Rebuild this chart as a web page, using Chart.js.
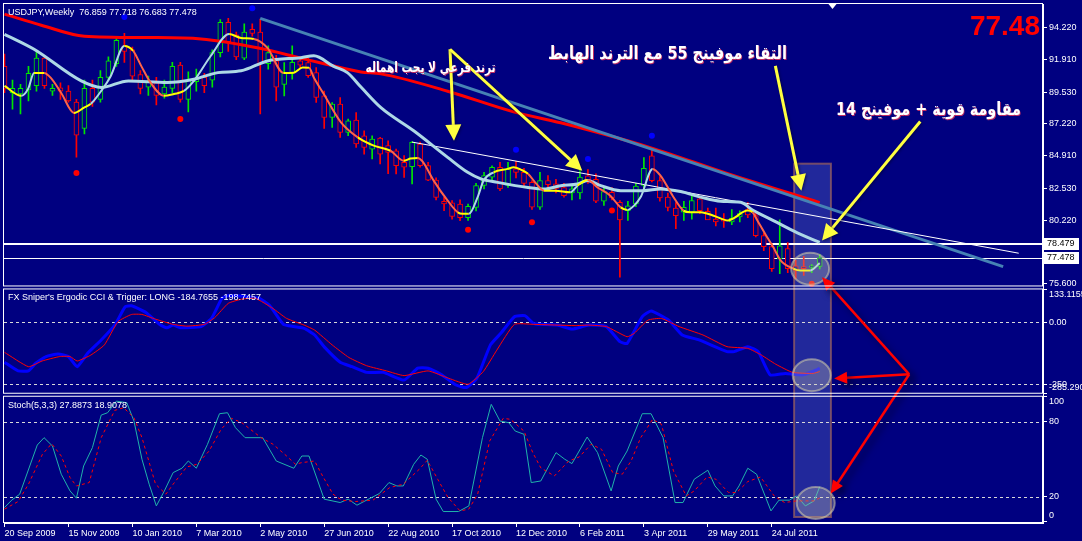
<!DOCTYPE html>
<html>
<head>
<meta charset="utf-8">
<script src="https://cdn.jsdelivr.net/npm/chart.js@4.4.0/dist/chart.umd.min.js"></script>
<style>
html, body { margin: 0; padding: 0; background: #000080; overflow: hidden; }
canvas { display: block; }
</style>
</head>
<body>
<canvas id="chart" width="1082" height="541"></canvas>
<script>
// weekly USDJPY bars, index 0 = week of 20 Sep 2009
const dateLabels = ['20 Sep 2009','15 Nov 2009','10 Jan 2010','7 Mar 2010','2 May 2010','27 Jun 2010','22 Aug 2010','17 Oct 2010','12 Dec 2010','6 Feb 2011','3 Apr 2011','29 May 2011','24 Jul 2011'];
const dateIdx = [0,8,16,24,32,40,48,56,64,72,80,88,96];

const opens  = [91.4,89.5,89.4,89.7,90.0,92.0,89.6,89.85,89.6,88.8,86.9,89.8,89.0,90.6,91.6,92.9,92.6,90.8,89.9,90.2,89.4,89.8,91.5,89.0,90.3,90.6,90.4,92.4,94.6,93.7,92.0,94.1,93.9,91.6,91.8,90.1,90.95,91.8,91.68,90.95,89.26,87.69,88.66,86.6,87.5,86.36,85.39,86.2,85.64,85.27,84.43,84.12,85.76,84.19,83.13,81.6,81.49,81.4,80.4,81.15,82.74,83.34,84.07,82.74,83.95,83.7,82.98,81.16,83.1,82.86,82.6,82.2,82.2,83.45,83.2,81.6,82.25,81.52,80.92,81.4,82.74,84.9,83.1,81.9,81.1,80.8,80.8,81.77,80.87,80.3,80.3,80.1,80.45,81.0,80.55,79.1,78.3,77.4,78.15,76.9,76.85,76.8,76.859];
const highs  = [92.3,90.4,90.1,91.4,92.5,92.2,90.1,90.2,90.0,89.0,90.4,90.4,91.1,92.1,93.5,93.8,92.8,91.1,90.7,90.6,90.4,91.7,91.7,91.0,91.2,90.9,92.6,94.8,94.9,93.9,94.5,94.5,94.85,92.9,92.2,91.68,92.89,92.1,92.0,91.32,89.6,88.78,89.14,87.57,88.05,86.72,86.36,86.24,86.0,85.4,84.91,85.93,85.9,84.43,83.3,81.88,81.64,81.7,81.4,82.9,83.7,84.18,84.43,84.43,84.5,84.0,83.1,83.7,83.46,83.2,82.9,82.8,84.06,83.9,83.6,82.6,82.6,81.64,81.6,82.9,84.78,85.5,83.4,82.2,81.5,81.6,82.0,81.9,81.1,81.1,80.7,81.0,80.9,81.5,80.8,79.3,78.5,80.24,78.6,77.3,77.6,77.0,77.718];
const lows   = [89.5,88.3,87.95,88.9,89.6,89.8,89.3,89.0,88.8,84.8,86.5,88.5,88.8,90.4,91.4,91.7,90.3,89.4,89.3,88.6,89.1,89.5,88.8,88.1,89.6,89.5,89.9,92.1,92.5,91.9,91.9,93.6,87.95,91.2,88.9,89.26,90.47,91.3,90.6,88.78,86.9,86.96,86.24,86.36,85.51,85.03,84.67,84.31,83.6,83.58,83.33,82.86,84.07,83.1,81.7,80.92,80.3,80.19,80.2,80.9,82.5,83.1,82.37,82.6,83.3,82.6,81.0,81.0,82.6,82.2,81.9,81.7,81.77,82.9,81.5,81.3,81.7,76.08,80.2,81.2,82.3,83.0,81.6,80.9,79.6,80.2,80.3,80.7,80.3,79.8,79.7,79.9,80.1,80.4,79.0,78.0,76.5,76.33,76.4,75.95,76.2,76.4,76.683];
const closes = [89.8,89.8,89.8,90.9,92.0,90.0,89.8,89.6,88.9,86.4,89.8,88.8,90.6,91.8,93.3,92.5,90.7,89.8,90.3,89.3,89.9,91.4,89.0,90.4,90.5,90.0,92.4,94.6,93.2,92.1,93.9,93.8,91.6,92.4,89.9,90.95,91.7,91.5,90.72,89.14,87.69,88.66,86.6,87.45,85.76,85.51,86.12,85.03,85.15,84.18,84.07,85.88,84.18,83.13,81.88,81.4,80.5,80.4,81.23,82.74,83.46,84.07,82.5,83.95,83.7,82.9,81.16,83.1,82.8,82.5,82.0,82.5,83.35,83.1,81.6,82.3,81.84,80.24,81.27,82.7,83.99,83.1,81.84,81.15,80.55,81.15,81.64,80.92,80.24,80.1,80.15,80.35,80.7,80.6,79.1,78.3,76.7,78.36,76.69,76.56,76.7,76.9,77.478];

// moving averages: [bar index, price]
const ma55 = [[0,95.2],[4.6,94.4],[10,93.6],[18,93.5],[24.6,93.4],[32.1,92.7],[37.1,92.0],[40,91.6],[44.6,91.0],[47.1,90.86],[55.45,89.6],[63.7,88.1],[69.6,87.3],[80.8,85.5],[90.5,83.6],[102,81.5]];
const ma14 = [[0,93.74],[3.7,92.65],[9.6,90.35],[12.1,89.87],[15.5,90.35],[20.4,90.23],[23.7,90.47],[26.7,90.95],[29.6,91.08],[32.9,91.8],[37.1,92.04],[38.7,92.17],[41.2,91.4],[42.9,90.95],[44.6,89.9],[47.1,88.4],[51.2,86.72],[55.45,84.79],[57.95,83.7],[59.6,83.22],[61.7,82.97],[65.5,82.6],[67.5,82.49],[69.6,82.73],[71.7,82.85],[72.95,83.1],[74.6,82.73],[77.1,82.37],[79.95,82.37],[82.1,82.49],[84.6,82.3],[87.1,81.9],[89.6,81.6],[92.1,81.52],[93.7,80.92],[96.2,80.19],[99.2,79.3],[102,78.6]];
const fastMa = [[0,89.98],[2.1,89.26],[2.95,89.77],[3.7,90.93],[4.95,90.93],[5.8,90.57],[7.1,89.47],[8.7,88.02],[9.95,88.4],[10.8,88.68],[12.1,89.62],[13.3,90.71],[15.0,92.89],[16.1,92.53],[17.1,91.44],[18.3,90.2],[19.95,89.26],[21.2,89.4],[22.45,89.62],[23.7,90.35],[25.8,92.16],[28.1,93.76],[29.6,93.47],[31.2,93.4],[32.9,92.75],[34.9,90.93],[36.2,90.95],[37.3,91.32],[38.1,91.3],[38.7,90.6],[39.95,89.39],[42.1,87.33],[44.2,86.24],[46.2,85.64],[48.3,85.27],[49.95,84.55],[50.8,84.7],[51.7,84.75],[52.3,84.5],[53.7,83.1],[55.45,81.64],[56.7,80.8],[57.3,80.68],[58.1,80.68],[59.2,81.9],[59.95,83.1],[61.2,83.7],[62.95,83.95],[63.7,84.07],[64.6,83.9],[65.5,83.6],[66.5,82.9],[67.5,82.37],[68.9,82.37],[70.8,82.25],[71.7,82.73],[72.95,83.14],[74.2,82.6],[75.8,82.0],[77.1,81.15],[77.95,80.97],[78.8,81.3],[79.6,81.9],[81.1,83.95],[82.1,83.45],[83.6,82.0],[84.95,80.92],[85.8,80.8],[87.1,80.8],[88.95,80.5],[90.5,80.2],[91.2,80.35],[92.95,80.92],[93.6,80.8],[94.2,80.2],[95.2,79.2],[96.2,78.25],[97.1,77.3],[98.7,76.7],[99.6,76.56],[100.8,76.56],[102,77.1]];

const downTrend = [[32,94.9],[124.95,76.85]];
const subTrend = [[51,85.9],[126.9,77.82]];
const fractalUp = [[15,94.99],[31,95.63],[64,85.35],[73,84.67],[81,86.36]];
const fractalDn = [[9,83.65],[22,87.57],[58,79.52],[66,80.07],[76,80.92],[101,75.6]];
const resistance = 78.479;
const bid = 77.478;
const priceTicks = [94.22,91.91,89.53,87.22,84.91,82.53,80.22,75.6];

// FX Sniper's Ergodic CCI & trigger
const cciMain = [[0,-161],[1.7,-196],[3.0,-196],[3.9,-165],[5.2,-138],[6.7,-128],[8.0,-138],[9.1,-179],[10.4,-125],[12.1,-71],[13.8,-11],[15.1,63],[15.9,67],[17.7,40],[19.4,-8],[20.3,-22],[21.1,-11],[22.0,-22],[24.6,-17],[25.9,16],[27.2,97],[28.0,108],[30.6,103],[31.9,97],[33.2,67],[34.9,-8],[36.2,-17],[37.5,-24],[38.8,-51],[40.1,-102],[42.0,-161],[43.5,-179],[45.3,-202],[47.4,-202],[50.0,-233],[51.7,-185],[53.0,-185],[54.7,-212],[56.5,-253],[57.8,-263],[59.1,-226],[60.8,-91],[62.1,-44],[63.8,23],[65.1,27],[66.2,-4],[67.1,-8],[69.2,-11],[71.0,-27],[73.1,-11],[75.3,-17],[77.0,-78],[77.9,-85],[79.8,23],[80.9,46],[83.1,9],[84.8,-51],[86.9,-71],[90.4,-118],[91.3,-118],[93.0,-98],[94.3,-118],[95.8,-212],[97.7,-206],[99.9,-212],[101.6,-192],[102,-184.7655]];
const cciTrig = [[0,-121],[3.0,-179],[4.7,-156],[6.9,-138],[8.2,-138],[9.1,-156],[10.8,-132],[12.5,-91],[14.2,3],[15.9,32],[17.2,32],[18.9,13],[21.1,-8],[22.8,-15],[25.0,-8],[26.3,19],[28.0,77],[29.7,94],[31.4,97],[33.6,56],[35.3,16],[37.5,-11],[38.8,-31],[41.0,-91],[43.1,-142],[45.3,-175],[47.8,-196],[50.0,-215],[53.0,-196],[55.6,-226],[58.0,-250],[59.9,-199],[61.6,-112],[63.8,-8],[66.2,-8],[71.4,-13],[73.1,-11],[75.3,-17],[77.9,-58],[78.8,-44],[80.5,9],[82.2,16],[84.4,-17],[87.4,-51],[90.4,-98],[93.0,-105],[94.7,-132],[96.5,-169],[98.6,-202],[101.2,-206],[102,-198.7457]];
const cciLevels = [0,-250];
const cciTicks = [133.1155,0,-250,-285.29];
const cciTickLabels = ['133.1155','0.00','-250','-285.290'];

// Stoch(5,3,3)
const stochMain = [[0,11.2],[0.9,17.1],[1.9,21.9],[4.1,61.3],[4.95,67.2],[6.0,60.5],[7.1,37.9],[8.2,24.5],[9.0,18.7],[9.9,44.5],[11.0,59.2],[12.1,85.3],[12.9,87.2],[14.0,96.5],[15.3,95.2],[16.2,80.5],[17.2,49.9],[18.1,29.9],[19.0,12.5],[20.0,24.5],[21.1,39.2],[22.2,42.7],[23.0,48.5],[24.0,42.7],[25.4,61.9],[26.9,86.4],[27.9,87.2],[28.9,75.2],[30.1,67.2],[32.3,67.2],[34.0,48.5],[36.2,42.7],[37.2,52.5],[38.1,52.5],[40.0,17.9],[42.0,15.2],[43.0,17.9],[44.1,13.1],[46.9,22.4],[48.1,31.2],[49.1,28.5],[49.9,28.5],[51.2,45.9],[52.1,53.3],[52.9,49.9],[54.0,17.9],[54.9,8.0],[56.8,8.0],[58.1,12.5],[59.8,67.2],[60.9,93.9],[62.0,80.5],[63.1,79.2],[63.9,72.5],[65.0,69.9],[65.9,31.2],[67.1,32.5],[69.0,55.2],[70.1,49.9],[71.0,46.4],[72.9,67.7],[74.2,55.2],[75.9,24.5],[76.8,44.5],[77.9,56.5],[79.8,86.4],[80.9,86.4],[82.4,67.2],[83.9,15.2],[84.9,15.2],[86.3,33.9],[88.0,41.1],[88.9,28.5],[90.0,20.5],[91.1,20.5],[91.9,28.5],[93.0,42.7],[94.1,37.9],[95.9,8.5],[96.9,17.1],[98.2,17.1],[99.1,20.5],[100.2,12.5],[101.3,16.5],[102,27.8873]];
const stochSig = [[0,9.9],[1.7,16.0],[3.0,29.9],[4.75,53.9],[5.9,62.4],[7.1,52.5],[8.2,35.2],[9.0,28.5],[10.6,31.2],[12.1,67.2],[13.8,89.1],[14.9,91.2],[16.2,83.2],[17.2,67.2],[18.9,29.9],[20.2,21.9],[21.1,29.9],[22.8,43.7],[24.1,45.9],[25.6,56.5],[27.1,73.9],[28.4,82.7],[29.7,79.2],[32.1,67.2],[33.6,61.9],[35.3,52.5],[36.4,45.9],[37.2,47.2],[38.8,48.5],[39.8,36.5],[41.1,21.9],[42.2,17.1],[43.9,16.0],[46.1,17.1],[48.2,27.2],[49.9,29.9],[51.9,41.9],[52.9,49.1],[54.2,33.9],[55.5,19.2],[57.0,8.5],[58.1,9.9],[59.2,21.9],[60.7,64.5],[62.4,82.7],[63.3,81.9],[65.0,72.5],[66.1,55.2],[67.1,43.0],[68.8,36.5],[70.6,48.5],[71.9,51.7],[73.4,61.9],[74.7,57.9],[76.1,39.2],[77.3,37.9],[78.4,48.5],[79.6,67.2],[81.1,81.9],[82.2,77.9],[83.7,40.5],[85.3,20.5],[86.3,24.5],[87.9,35.7],[89.0,33.9],[90.6,23.2],[91.6,23.2],[93.0,32.0],[94.6,35.7],[96.3,20.5],[97.6,15.2],[99.1,16.5],[101.3,16.5],[102,18.9078]];
const stochLevels = [80,20];
const stochTicks = [100,80,20,0];

// hand-drawn notes on the chart (bar index / value on each pane)
const noteTexts = ['ترند فرعي لا يجب اهماله','التقاء موفينج 55 مع الترند الهابط','مقاومة قوية + موفينج 14'];
const notePos = [[53.3,91.29],[82.95,92.31],[115.6,88.24]];
const yellowArrows = [[55.74,92.65,56.24,86.0],[55.74,92.65,72.29,83.82],[96.45,91.44,99.7,82.37],[114.58,87.4,102.29,78.74]];
const redHub = [113.2,-209.7];
const redTips = [['y',102.29,76.08],['yc',103.8,-227],['ys',103.38,22.4]];
const focusBox = [98.8,84.33,103.4,3.6];
const focusRings = [['y',100.8,76.69],['yc',101,-213.7],['ys',101.5,14.8]];

const NAVY = '#000080';
const bull = '#00e600', bear = '#ff0000';
const barIdx = opens.map((_, i) => i);
const candleColor = i => closes[i] >= opens[i] ? bull : bear;
const pts = arr => arr.map(([x, y]) => ({x, y}));
const last = arr => arr[arr.length - 1][1];

Chart.defaults.font.family = '"Liberation Sans", Arial, sans-serif';
Chart.defaults.font.size = 9;
Chart.defaults.color = '#ffffff';

function paneAxis(weight, min, max, vals, fmt) {
  return {
    type: 'linear', position: 'right', stack: 'panes', stackWeight: weight,
    min: min, max: max, offset: false,
    border: {display: true, color: '#ffffff', width: 1},
    grid: {drawOnChartArea: false, drawTicks: true, tickLength: 4, color: '#ffffff'},
    ticks: {padding: 2, color: '#ffffff', callback: fmt},
    afterBuildTicks: s => { s.ticks = vals.map(v => ({value: v})); },
    afterFit: s => { s.width = 39; s.paddingTop = 0; s.paddingBottom = 0; }
  };
}

function drawArrow(ctx, x0, y0, x1, y1, head, half) {
  const a = Math.atan2(y1 - y0, x1 - x0);
  ctx.beginPath();
  ctx.moveTo(x0, y0);
  ctx.lineTo(x1 - Math.cos(a) * head * 0.7, y1 - Math.sin(a) * head * 0.7);
  ctx.stroke();
  ctx.beginPath();
  ctx.moveTo(x1, y1);
  ctx.lineTo(x1 - head * Math.cos(a) + half * Math.sin(a), y1 - head * Math.sin(a) - half * Math.cos(a));
  ctx.lineTo(x1 - head * Math.cos(a) - half * Math.sin(a), y1 - head * Math.sin(a) + half * Math.cos(a));
  ctx.closePath();
  ctx.fill();
}

const decor = {
  id: 'decor',
  beforeDatasetsDraw(chart) {
    const {ctx, scales} = chart;
    const {x, y, yc, ys} = scales;
    ctx.save();
    // highlighted column
    const bx0 = x.getPixelForValue(focusBox[0]), bx1 = x.getPixelForValue(focusBox[2]);
    const by0 = y.getPixelForValue(focusBox[1]), by1 = ys.getPixelForValue(focusBox[3]);
    ctx.fillStyle = 'rgba(95,115,205,0.35)';
    ctx.fillRect(bx0, by0, bx1 - bx0, by1 - by0);
    ctx.strokeStyle = 'rgba(150,95,95,0.75)';
    ctx.lineWidth = 2;
    ctx.strokeRect(bx0, by0, bx1 - bx0, by1 - by0);
    // indicator levels
    ctx.setLineDash([3, 3]);
    ctx.strokeStyle = '#d8d8d8';
    ctx.lineWidth = 1;
    [[yc, cciLevels], [ys, stochLevels]].forEach(([s, lv]) => lv.forEach(v => {
      const py = Math.round(s.getPixelForValue(v)) + 0.5;
      ctx.beginPath(); ctx.moveTo(x.left, py); ctx.lineTo(x.right, py); ctx.stroke();
    }));
    ctx.setLineDash([]);
    ctx.strokeStyle = '#ffffff';
    let py = Math.round(y.getPixelForValue(resistance));
    ctx.lineWidth = 2;
    ctx.beginPath(); ctx.moveTo(x.left, py); ctx.lineTo(x.right, py); ctx.stroke();
    py = Math.round(y.getPixelForValue(bid)) + 0.5;
    ctx.lineWidth = 1;
    ctx.beginPath(); ctx.moveTo(x.left, py); ctx.lineTo(x.right, py); ctx.stroke();
    ctx.restore();
  },
  afterDatasetsDraw(chart) {
    const {ctx, scales} = chart;
    const {x, y, yc} = scales;
    ctx.save();
    // rings
    focusRings.forEach(([ax, i, v]) => {
      const cx = x.getPixelForValue(i), cy = scales[ax].getPixelForValue(v);
      ctx.beginPath();
      ctx.ellipse(cx, cy, 19, 16, 0, 0, Math.PI * 2);
      ctx.fillStyle = 'rgba(205,205,175,0.3)';
      ctx.fill();
      ctx.strokeStyle = 'rgba(215,210,170,0.55)';
      ctx.lineWidth = 2;
      ctx.stroke();
    });
    // red arrows from hub
    ctx.save();
    ctx.shadowColor = 'rgba(0,0,40,0.75)';
    ctx.shadowBlur = 7; ctx.shadowOffsetX = 4; ctx.shadowOffsetY = 4;
    ctx.strokeStyle = '#ff0000'; ctx.fillStyle = '#ff0000'; ctx.lineWidth = 2.5;
    const hx = x.getPixelForValue(redHub[0]), hy = yc.getPixelForValue(redHub[1]);
    redTips.forEach(([ax, i, v]) => drawArrow(ctx, hx, hy, x.getPixelForValue(i), scales[ax].getPixelForValue(v), 13, 6));
    ctx.restore();
    // yellow arrows
    ctx.save();
    ctx.shadowColor = 'rgba(0,0,40,0.6)';
    ctx.shadowBlur = 3; ctx.shadowOffsetX = 1; ctx.shadowOffsetY = 1;
    ctx.strokeStyle = '#ffff40'; ctx.fillStyle = '#ffff40'; ctx.lineWidth = 3;
    yellowArrows.forEach(([i0, p0, i1, p1]) => drawArrow(ctx, x.getPixelForValue(i0), y.getPixelForValue(p0), x.getPixelForValue(i1), y.getPixelForValue(p1), 16, 8));
    ctx.restore();
    // notes: bold Arabic, squeezed to the width they take in the screenshot
    const noteSize = [14, 18, 18];
    const noteWidth = [130, 239, 185];
    noteTexts.forEach((t, k) => {
      ctx.save();
      ctx.direction = 'rtl';
      ctx.textAlign = 'center';
      ctx.textBaseline = 'middle';
      ctx.font = 'bold ' + noteSize[k] + 'px "DejaVu Sans"';
      const w = ctx.measureText(t).width;
      ctx.translate(x.getPixelForValue(notePos[k][0]), y.getPixelForValue(notePos[k][1]));
      ctx.scale(Math.min(1, noteWidth[k] / w), 1);
      ctx.fillStyle = 'rgba(255,60,90,0.75)';
      ctx.fillText(t, 1, 1);
      ctx.fillStyle = '#ffffff';
      ctx.fillText(t, 0, 0);
      ctx.restore();
    });
    ctx.restore();
  },
  afterDraw(chart) {
    const {ctx, scales} = chart;
    const {x, y, yc, ys} = scales;
    ctx.save();
    // pane frames
    ctx.strokeStyle = '#ffffff';
    ctx.lineWidth = 1;
    [y, yc, ys].forEach((s, k) => {
      const t = k === 0 ? s.top - 0.5 : s.top + 1.5;
      const b = k === 2 ? s.bottom - 0.5 : s.bottom - 1.5;
      ctx.strokeRect(x.left - 0.5, t, x.right - x.left, b - t);
    });
    // chart shift marker
    const sx = x.getPixelForValue(103.6);
    ctx.fillStyle = '#ffffff';
    ctx.beginPath(); ctx.moveTo(sx - 4, y.top); ctx.lineTo(sx + 4, y.top); ctx.lineTo(sx, y.top + 5); ctx.closePath(); ctx.fill();
    // sub-pane scale labels, kept inside each pane
    ctx.font = '9px "Liberation Sans"';
    ctx.textBaseline = 'middle';
    ctx.textAlign = 'left';
    const lx = y.left + 6;
    const sub = (s, vals, labels) => vals.forEach((v, k) => {
      const py = Math.min(Math.max(s.getPixelForValue(v), s.top + 7), s.bottom - 7);
      ctx.fillText(labels[k], lx, py);
    });
    sub(yc, cciTicks, cciTickLabels);
    sub(ys, stochTicks, stochTicks.map(String));
    // boxed price labels
    [resistance, bid].forEach(p => {
      const py = Math.round(y.getPixelForValue(p));
      ctx.fillStyle = '#ffffff';
      ctx.fillRect(y.left + 1, py - 6, 35, 12);
      ctx.fillStyle = '#000000';
      ctx.fillText(p.toFixed(3), y.left + 4, py);
    });
    // titles
    ctx.fillStyle = '#ffffff';
    ctx.fillText('USDJPY,Weekly  ' + [opens, highs, lows, closes].map(a => a[a.length - 1].toFixed(3)).join(' '), x.left + 4, y.top + 9);
    ctx.fillText("FX Sniper's Ergodic CCI & Trigger: LONG " + last(cciMain).toFixed(4) + ' ' + last(cciTrig).toFixed(4), x.left + 4, yc.top + 10);
    ctx.fillText('Stoch(5,3,3) ' + last(stochMain).toFixed(4) + ' ' + last(stochSig).toFixed(4), x.left + 4, ys.top + 11);
    ctx.font = 'bold 28px "Liberation Sans"';
    ctx.fillStyle = '#ff0000';
    ctx.textAlign = 'right';
    ctx.textBaseline = 'alphabetic';
    ctx.fillText(closes[closes.length - 1].toFixed(2), x.right - 3, y.top + 31);
    ctx.restore();
  }
};

const segColor = s => {
  const d = (s.p1.parsed.y - s.p0.parsed.y) / (s.p1.parsed.x - s.p0.parsed.x);
  return d > 0.35 ? '#add8e6' : d < -0.35 ? '#ff6347' : '#ffff00';
};

new Chart(document.getElementById('chart'), {
  type: 'line',
  data: {
    datasets: [
      {type: 'bar', yAxisID: 'y', data: barIdx.map(i => ({x: i, y: [lows[i], highs[i]]})), backgroundColor: c => candleColor(c.dataIndex), borderWidth: 0, barThickness: 1, grouped: false, order: 9},
      {type: 'bar', yAxisID: 'y', data: barIdx.map(i => ({x: i, y: [opens[i], closes[i]]})), backgroundColor: NAVY, borderColor: c => candleColor(c.dataIndex), borderWidth: 1, borderSkipped: false, barThickness: 5, minBarLength: 1, grouped: false, order: 8},
      {yAxisID: 'y', data: pts(ma55), borderColor: '#ff0000', borderWidth: 3, pointRadius: 0, cubicInterpolationMode: 'monotone', order: 7},
      {yAxisID: 'y', data: pts(downTrend), borderColor: '#4682b4', borderWidth: 3, pointRadius: 0, order: 6},
      {yAxisID: 'y', data: pts(subTrend), borderColor: '#ffffff', borderWidth: 1, pointRadius: 0, order: 5},
      {yAxisID: 'y', data: pts(ma14), borderColor: '#add8e6', borderWidth: 3, pointRadius: 0, cubicInterpolationMode: 'monotone', order: 4},
      {yAxisID: 'y', data: pts(fastMa), borderColor: '#ff6347', borderWidth: 2, pointRadius: 0, cubicInterpolationMode: 'monotone', segment: {borderColor: segColor}, order: 3},
      {yAxisID: 'y', data: pts(fractalUp), showLine: false, pointRadius: 3, pointBorderWidth: 0, pointBackgroundColor: '#0000ff', order: 2},
      {yAxisID: 'y', data: pts(fractalDn), showLine: false, pointRadius: 3, pointBorderWidth: 0, pointBackgroundColor: '#ff0000', order: 2},
      {yAxisID: 'yc', data: pts(cciMain), borderColor: '#0000ff', borderWidth: 3, pointRadius: 0, tension: 0.15, order: 11},
      {yAxisID: 'yc', data: pts(cciTrig), borderColor: '#ff0000', borderWidth: 1, pointRadius: 0, tension: 0.15, order: 10},
      {yAxisID: 'ys', data: pts(stochMain), borderColor: '#20b2aa', borderWidth: 1, pointRadius: 0, order: 11},
      {yAxisID: 'ys', data: pts(stochSig), borderColor: '#ff0000', borderWidth: 1, borderDash: [3, 3], pointRadius: 0, order: 10}
    ]
  },
  options: {
    responsive: false,
    animation: false,
    layout: {padding: {left: 3, top: 3, right: 0, bottom: 0}},
    plugins: {legend: {display: false}, tooltip: {enabled: false}},
    scales: {
      x: {
        type: 'linear', position: 'bottom', min: -0.0625, max: 129.9375, offset: false,
        border: {color: '#ffffff'},
        grid: {drawOnChartArea: false, tickLength: 4, color: '#ffffff', offset: false},
        ticks: {align: 'start', padding: 1, maxRotation: 0, minRotation: 0, autoSkip: false, color: '#ffffff', callback: (v, k) => dateLabels[k]},
        afterBuildTicks: s => { s.ticks = dateIdx.map(v => ({value: v})); },
        afterFit: s => { s.height = 18; s.paddingLeft = 0; s.paddingRight = 0; }
      },
      y: paneAxis(284, 75.33, 95.94, priceTicks, v => v.toFixed(3)),
      yc: paneAxis(107.5, -292.3, 141.1, cciTicks, () => ''),
      ys: paneAxis(128.5, -1.2, 101.6, stochTicks, () => '')
    }
  },
  plugins: [decor]
});
</script>
</body>
</html>
